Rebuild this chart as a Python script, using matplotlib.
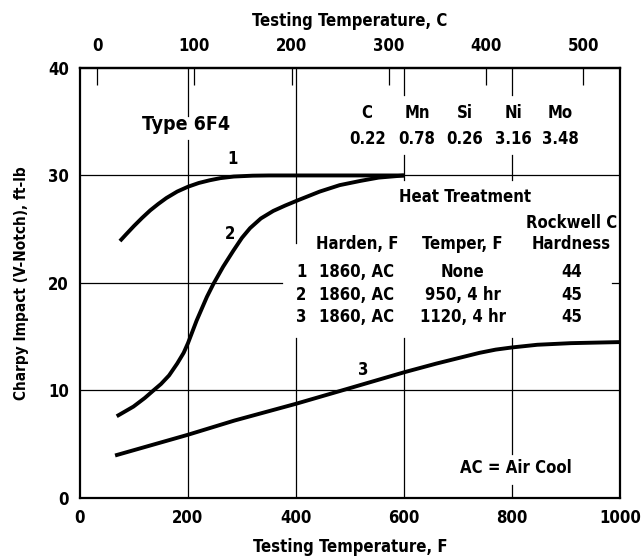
import matplotlib
matplotlib.use("Agg")
import matplotlib.pyplot as plt

plt.rcParams['font.family'] = ['DejaVu Sans']
plt.rcParams['font.stretch'] = 'condensed'
plt.rcParams['font.weight'] = 'bold'

# curve data (testing temperature F, impact ft-lb)
curve1_f = [74, 85, 100, 115, 130, 145, 160, 180, 200, 220, 240, 260, 285, 320, 350, 450, 600]
curve1_y = [23.9, 24.5, 25.3, 26.05, 26.75, 27.35, 27.9, 28.5, 28.95, 29.3, 29.55, 29.75, 29.9, 29.98, 30.0, 30.0, 30.0]

curve2_f = [68, 99, 120, 136, 150, 165, 180, 192, 200, 216, 235, 247, 265, 284, 300, 315, 335, 358, 380,
            404, 444, 481, 520, 553, 600]
curve2_y = [7.6, 8.5, 9.3, 10.0, 10.6, 11.4, 12.5, 13.5, 14.4, 16.5, 18.7, 19.9, 21.5, 23.0, 24.2, 25.1, 26.0,
            26.7, 27.2, 27.7, 28.5, 29.1, 29.5, 29.8, 30.0]

curve3_f = [65, 200, 286, 400, 485, 601, 660, 700, 740, 770, 800, 847, 909, 1000]
curve3_y = [3.95, 5.88, 7.2, 8.76, 10.0, 11.7, 12.5, 13.0, 13.5, 13.8, 14.0, 14.25, 14.4, 14.5]

x_ticks = [0, 200, 400, 600, 800, 1000]
y_ticks = [0, 10, 20, 30, 40]
c_ticks = [0, 100, 200, 300, 400, 500]

elements = ['C', 'Mn', 'Si', 'Ni', 'Mo']
percents = ['0.22', '0.78', '0.26', '3.16', '3.48']

rows = ['1', '2', '3']
harden = ['1860, AC', '1860, AC', '1860, AC']
temper = ['None', '950, 4 hr', '1120, 4 hr']
hardness = ['44', '45', '45']

fig = plt.figure(figsize=(6.42, 5.57), dpi=100)
ax = fig.add_axes([0.1246, 0.106, 0.841, 0.772])

ax.set_xlim(0, 1000)
ax.set_ylim(0, 40)

# broken grid lines (gaps left for the text blocks)
vsegs = [(200, 0, 33.3), (200, 35.5, 40),
         (400, 0, 14.9), (400, 23.7, 40),
         (600, 0, 14.9), (600, 29.6, 31.9), (600, 37.5, 40),
         (800, 0, 1.2), (800, 4.1, 14.9), (800, 29.6, 31.9), (800, 37.5, 40)]
for x, y0, y1 in vsegs:
    ax.plot([x, x], [y0, y1], color='black', lw=0.9, zorder=1)
hsegs = [(10, 0, 1000), (30, 0, 1000), (20, 0, 375), (20, 985, 1000)]
for y, x0, x1 in hsegs:
    ax.plot([x0, x1], [y, y], color='black', lw=0.9, zorder=1)

for fx, fy in [(curve1_f, curve1_y), (curve2_f, curve2_y), (curve3_f, curve3_y)]:
    ax.plot(fx, fy, color='black', lw=2.8, solid_capstyle='butt',
            solid_joinstyle='round', zorder=3)

for s in ax.spines.values():
    s.set_linewidth(1.6)

fs = 12
ax.set_xticks(x_ticks)
ax.set_yticks(y_ticks)
ax.tick_params(length=0, labelsize=fs, pad=8)
ax.set_xlabel('Testing Temperature, F', fontsize=fs, fontweight='bold', labelpad=8)
ax.set_ylabel('Charpy Impact (V-Notch), ft-lb', fontsize=11, fontweight='bold', labelpad=14)

top = ax.secondary_xaxis('top', functions=(lambda f: (f - 32) * 5 / 9, lambda c: c * 9 / 5 + 32))
top.set_xticks(c_ticks)
top.tick_params(direction='in', length=12, width=0.9, labelsize=fs, pad=9)
top.spines['top'].set_linewidth(1.6)
top.set_xlabel('Testing Temperature, C', fontsize=fs, fontweight='bold', labelpad=8)

ax.text(196, 34.7, 'Type 6F4', fontsize=14, ha='center', va='center')
ax.text(282, 31.5, '1', fontsize=fs, ha='center', va='center')
ax.text(278, 24.6, '2', fontsize=fs, ha='center', va='center')
ax.text(524, 11.9, '3', fontsize=fs, ha='center', va='center')

el_x = [532, 624, 712, 802, 889]
for x, e, p in zip(el_x, elements, percents):
    ax.text(x, 35.8, e, fontsize=fs, ha='center', va='center')
    ax.text(x, 33.4, p, fontsize=fs, ha='center', va='center')

ax.text(713, 28.0, 'Heat Treatment', fontsize=fs, ha='center', va='center')
ax.text(910, 25.55, 'Rockwell C', fontsize=fs, ha='center', va='center')
ax.text(910, 23.6, 'Hardness', fontsize=fs, ha='center', va='center')
ax.text(513, 23.6, 'Harden, F', fontsize=fs, ha='center', va='center')
ax.text(709, 23.6, 'Temper, F', fontsize=fs, ha='center', va='center')
for i, yy in enumerate([21.0, 18.9, 16.8]):
    ax.text(410, yy, rows[i], fontsize=fs, ha='center', va='center')
    ax.text(513, yy, harden[i], fontsize=fs, ha='center', va='center')
    ax.text(709, yy, temper[i], fontsize=fs, ha='center', va='center')
    ax.text(910, yy, hardness[i], fontsize=fs, ha='center', va='center')

ax.text(807, 2.76, 'AC = Air Cool', fontsize=fs, ha='center', va='center')

fig.savefig('out.png', dpi=100)
